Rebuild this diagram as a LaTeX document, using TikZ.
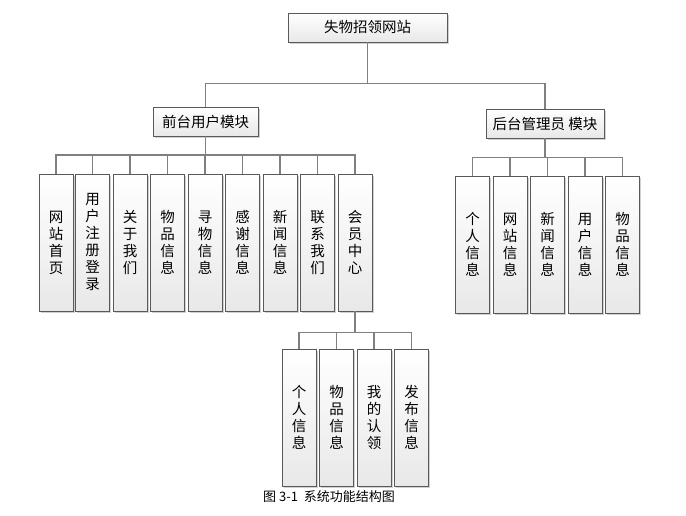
\documentclass[tikz,border=0pt]{standalone}
\usepackage{fontspec}
\setmainfont{Noto Sans CJK SC}
\usetikzlibrary{shadows}
\begin{document}
\begin{tikzpicture}[x=1pt,y=-1pt,
  box/.style={draw=black!65, line width=0.8pt, top color=white, bottom color=black!9,
    drop shadow={shadow xshift=1.8pt, shadow yshift=-1.8pt, fill=black!18, opacity=1},
    inner sep=0pt, font=\fontsize{14.5}{17}\selectfont},
  hbox/.style={box, minimum height=29pt},
  vbox/.style={box, minimum width=34pt, minimum height=137pt, align=center},
  conn/.style={draw=black!50, line width=1.4pt}]
\useasboundingbox (0,0) rectangle (686,515);
% top levels
\node[hbox, minimum width=159pt] (root) at (367.5,27.5) {失物招领网站};
\node[hbox, minimum width=105pt] (front) at (205.5,121.5) {前台用户模块};
\node[hbox, minimum width=118pt] (back) at (545,123.5) {后台管理员 模块};
% front children
\node[vbox] (f1) at (56,242.5) {网\\站\\首\\页};
\node[vbox] (f2) at (92.5,242.5) {用\\户\\注\\册\\登\\录};
\node[vbox] (f3) at (130,242.5) {关\\于\\我\\们};
\node[vbox] (f4) at (167.5,242.5) {物\\品\\信\\息};
\node[vbox] (f5) at (205,242.5) {寻\\物\\信\\息};
\node[vbox] (f6) at (242.5,242.5) {感\\谢\\信\\息};
\node[vbox] (f7) at (280,242.5) {新\\闻\\信\\息};
\node[vbox] (f8) at (317.5,242.5) {联\\系\\我\\们};
\node[vbox] (f9) at (355,242.5) {会\\员\\中\\心};
% back children
\node[vbox] (b1) at (472.5,244.5) {个\\人\\信\\息};
\node[vbox] (b2) at (510,244.5) {网\\站\\信\\息};
\node[vbox] (b3) at (547.5,244.5) {新\\闻\\信\\息};
\node[vbox] (b4) at (585,244.5) {用\\户\\信\\息};
\node[vbox] (b5) at (622.5,244.5) {物\\品\\信\\息};
% member children
\node[vbox] (m1) at (299,417.5) {个\\人\\信\\息};
\node[vbox] (m2) at (336.5,417.5) {物\\品\\信\\息};
\node[vbox] (m3) at (374,417.5) {我\\的\\认\\领};
\node[vbox] (m4) at (411.5,417.5) {发\\布\\信\\息};
% caption
\node[anchor=west, inner sep=0pt, font=\fontsize{13}{15}\selectfont] (cap) at (263,497) {图 3-1\ \ 系统功能结构图};
% connectors
\foreach \c in {front,back} \draw[conn] (root.south) -- ++(0,41) -| (\c.north);
\foreach \c in {f1,f2,f3,f4,f5,f6,f7,f8,f9} \draw[conn] (front.south) -- ++(0,18.5) -| (\c.north);
\foreach \c in {b1,b2,b3,b4,b5} \draw[conn] (back.south) -- ++(0,19) -| (\c.north);
\foreach \c in {m1,m2,m3,m4} \draw[conn] (f9.south) -- ++(0,21) -| (\c.north);
\end{tikzpicture}
\end{document}
